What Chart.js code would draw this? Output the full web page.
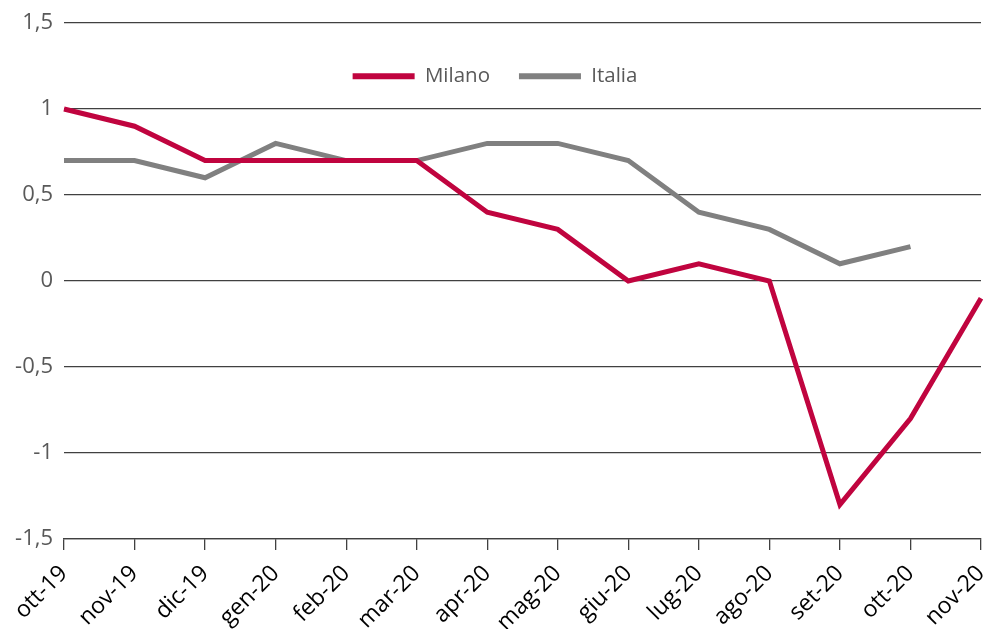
<!DOCTYPE html>
<html>
<head>
<meta charset="utf-8">
<script src="https://cdn.jsdelivr.net/npm/chart.js@4.4.0/dist/chart.umd.min.js"></script>
<style>
  html, body { margin: 0; padding: 0; background: #fff; }
</style>
</head>
<body>
<canvas id="inflChart" width="984" height="629"></canvas>
<script>
const months = ['ott-19', 'nov-19', 'dic-19', 'gen-20', 'feb-20', 'mar-20', 'apr-20',
                'mag-20', 'giu-20', 'lug-20', 'ago-20', 'set-20', 'ott-20', 'nov-20'];
const milano = [1, 0.9, 0.7, 0.7, 0.7, 0.7, 0.4, 0.3, 0, 0.1, 0, -1.3, -0.8, -0.1];
const italia = [0.7, 0.7, 0.6, 0.8, 0.7, 0.7, 0.8, 0.8, 0.7, 0.4, 0.3, 0.1, 0.2, null];
const yMin = -1.5, yMax = 1.5, yStep = 0.5;

const font = 'Open Sans';

// legend takes no room in the layout (maxHeight 1), then gets moved down into the plot
const legendPlacer = {
    id: 'legendPlacer',
    afterLayout(chart) {
        const lg = chart.legend;
        if (lg) {
            lg.left = 6;
            lg.top = 37;
            lg.bottom = 130;
        }
    }
};

window.onload = function() {
    const ctx = document.getElementById('inflChart').getContext('2d');
    new Chart(ctx, {
        type: 'line',
        data: {
            labels: months,
            datasets: [{
                label: 'Milano',
                data: milano,
                borderColor: '#C0043F',
                backgroundColor: '#C0043F',
                borderWidth: 5,
                pointRadius: 0,
                tension: 0
            }, {
                label: 'Italia',
                data: italia,
                borderColor: '#808080',
                backgroundColor: '#808080',
                borderWidth: 5,
                pointRadius: 0,
                tension: 0
            }]
        },
        options: {
            responsive: false,
            animation: false,
            layout: { padding: 0 },
            plugins: {
                tooltip: { enabled: false },
                legend: {
                    display: true,
                    position: 'top',
                    maxHeight: 1,
                    labels: {
                        boxWidth: 62,
                        boxHeight: 6,
                        padding: 29,
                        color: '#595959',
                        font: { family: font, size: 20.5 },
                        generateLabels: function(chart) {
                            return Chart.defaults.plugins.legend.labels.generateLabels(chart).map(l => {
                                l.fillStyle = l.strokeStyle;
                                l.lineWidth = 0;
                                return l;
                            });
                        }
                    }
                }
            },
            scales: {
                x: {
                    grid: {
                        drawOnChartArea: false,
                        drawTicks: true,
                        tickLength: 11,
                        color: '#404040',
                        lineWidth: 1.3
                    },
                    border: { display: true, color: '#404040', width: 1.3 },
                    ticks: {
                        autoSkip: false,
                        maxRotation: 45,
                        minRotation: 45,
                        color: '#000',
                        padding: 10,
                        font: { family: font, size: 23 }
                    },
                    afterFit: function(scale) {
                        scale.height = 90;
                        scale.paddingLeft = 0;
                        scale.paddingRight = 3;
                    }
                },
                y: {
                    min: yMin,
                    max: yMax,
                    grid: {
                        drawTicks: false,
                        color: '#404040',
                        lineWidth: 1.3
                    },
                    border: { display: false },
                    ticks: {
                        stepSize: yStep,
                        padding: 11,
                        color: '#595959',
                        font: { family: font, size: 22 },
                        callback: v => String(v).replace('.', ',')
                    },
                    afterFit: function(scale) {
                        scale.width = 64;
                        scale.paddingTop = 23;
                    }
                }
            }
        },
        plugins: [legendPlacer]
    });
};
</script>
</body>
</html>
